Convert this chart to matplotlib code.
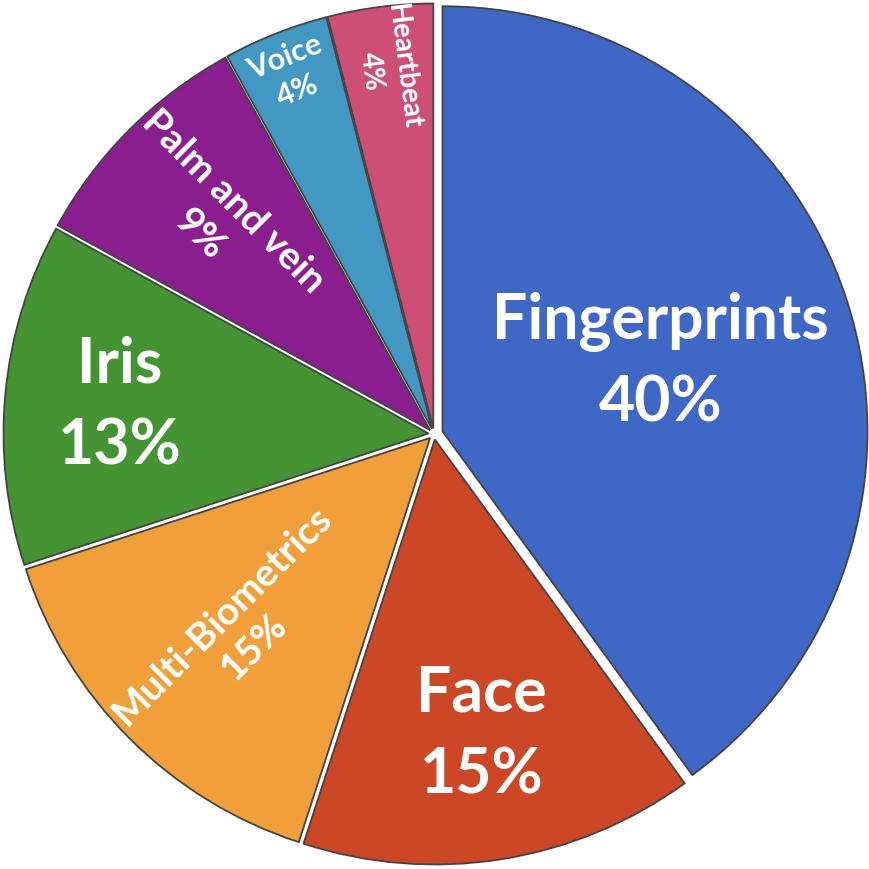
import matplotlib
matplotlib.use("Agg")
import matplotlib.pyplot as plt
import numpy as np

labels = ["Fingerprints", "Face", "Multi-Biometrics", "Iris", "Palm and vein", "Voice", "Heartbeat"]
values = [40, 15, 15, 13, 9, 4, 4]
colors = ["#3F67C5", "#CC4726", "#F09F3A", "#459433", "#8A1E8F", "#4297C3", "#CE4F76"]
explode = [0.021, 0.013, 0.013, 0.013, 0.013, 0.013, 0.013]

# label styling
label_r = [0.54, 0.70, 0.64, 0.73, 0.71, 0.90, 0.855]
label_fs = [45, 45, 28, 45, 28, 22, 20]
label_rot = ["none", "none", "radial", "none", "radial", "tangent", "radial"]
label_ls = [1.5, 1.5, 1.3, 1.5, 1.4, 1.35, 1.3]

plt.rcParams['font.family'] = ['Lato', 'DejaVu Sans']

W = 870
fig = plt.figure(figsize=(8.7, 8.7), dpi=100)
ax = fig.add_axes([0, 0, 1, 1])
R_px = 425.0
cx, cy = 434.0, 435.0

wedges, _ = ax.pie(values, colors=colors, startangle=90, counterclock=False,
                   explode=explode, radius=1.0,
                   wedgeprops=dict(edgecolor="#444444", linewidth=1.3))
ax.set_xlim(-cx / R_px, (W - cx) / R_px)
ax.set_ylim(-(W - cy) / R_px, cy / R_px)
ax.set_aspect('equal')
ax.axis('off')

for w, lab, v, r, fs, rot, ls, ex in zip(wedges, labels, values, label_r, label_fs,
                                         label_rot, label_ls, explode):
    mid = (w.theta1 + w.theta2) / 2.0
    a = np.deg2rad(mid)
    rr = r + ex
    x, y = rr * np.cos(a), rr * np.sin(a)
    if rot == "radial":
        ang = ((mid + 180) % 360) - 180
        if ang > 90:
            ang -= 180
        elif ang < -90:
            ang += 180
    elif rot == "tangent":
        ang = mid - 90
    else:
        ang = 0
    ax.text(x, y, f"{lab}\n{v}%", ha="center", va="center", color="white",
            fontsize=fs, fontweight="bold", rotation=ang, rotation_mode="anchor",
            linespacing=ls, multialignment="center")

fig.savefig("out.png", dpi=100)
